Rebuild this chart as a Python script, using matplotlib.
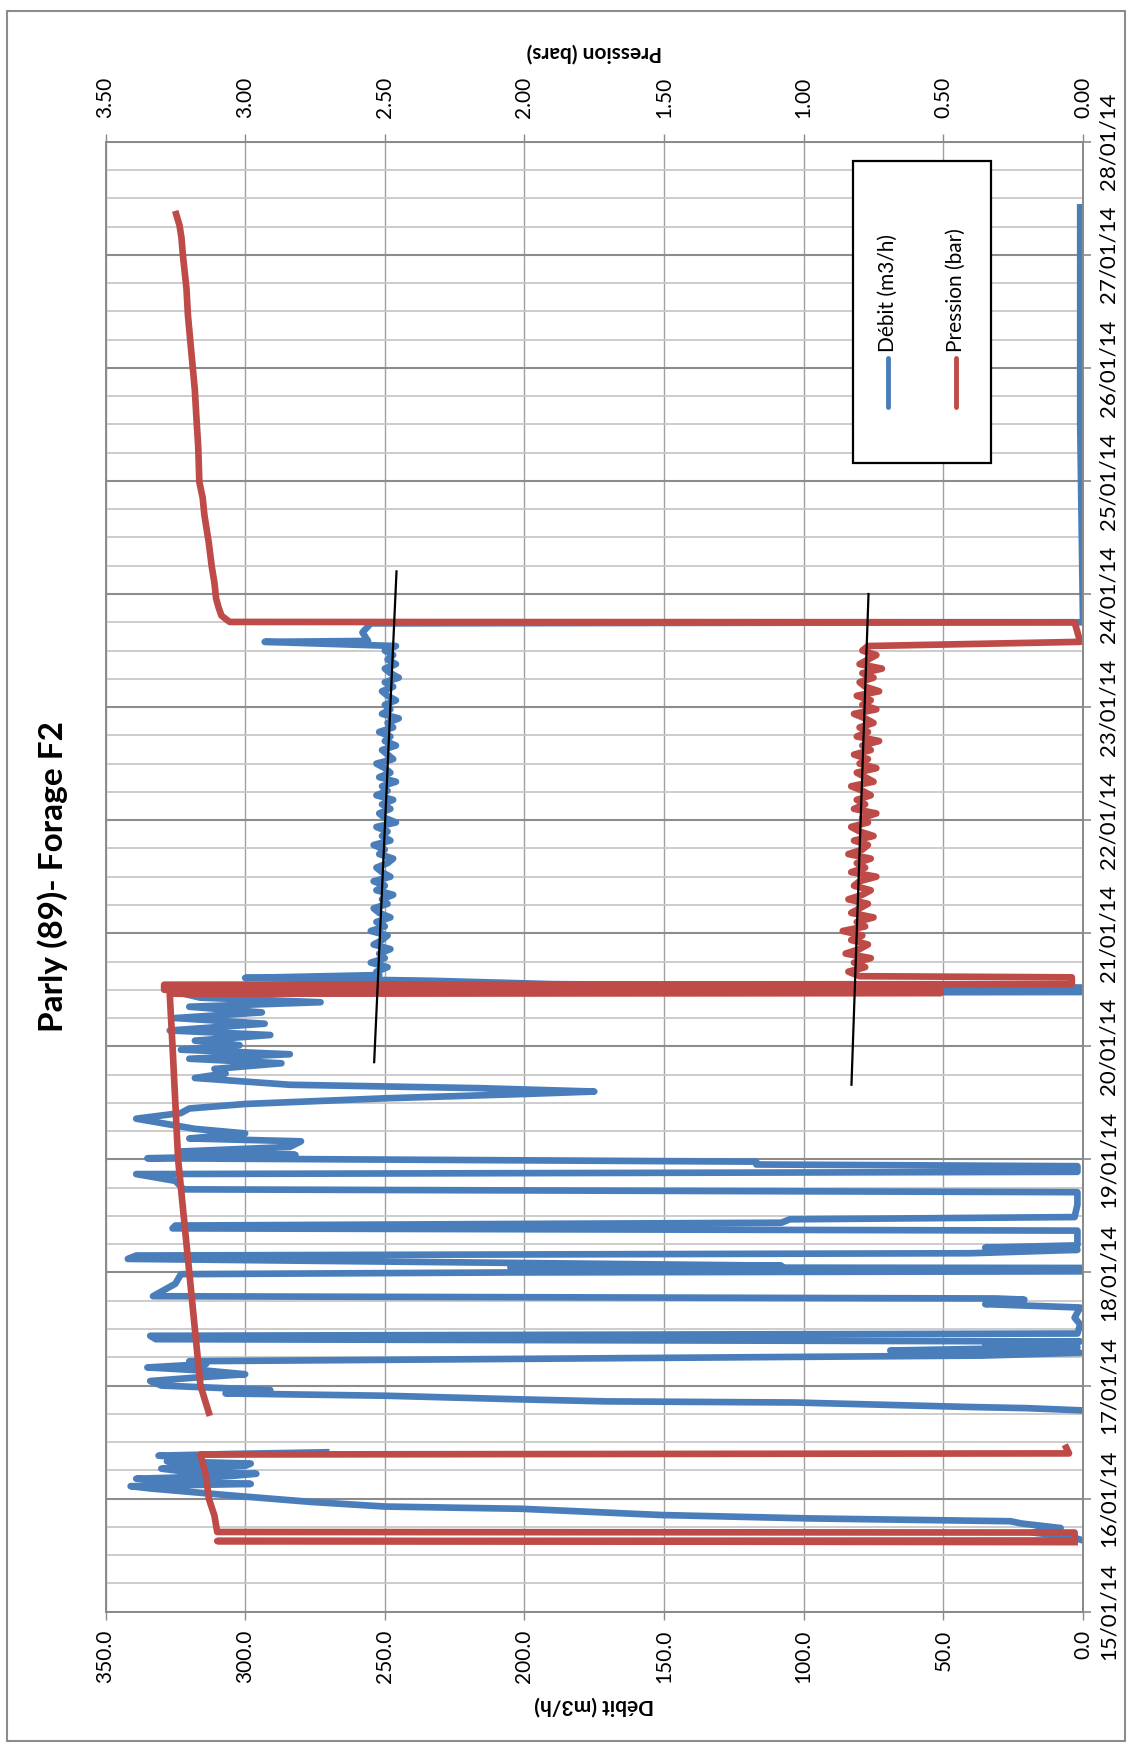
import numpy as np
import matplotlib.pyplot as plt
from matplotlib.ticker import MultipleLocator
from matplotlib.patches import Rectangle
from matplotlib.lines import Line2D

nan = np.nan

# --- Data (time in days from 15/01/14 00:00) ---
date_labels = ['15/01/14', '16/01/14', '17/01/14', '18/01/14', '19/01/14', '20/01/14', '21/01/14',
               '22/01/14', '23/01/14', '24/01/14', '25/01/14', '26/01/14', '27/01/14', '28/01/14']
debit_ticks = [0, 50, 100, 150, 200, 250, 300, 350]
pression_ticks = [0.0, 0.5, 1.0, 1.5, 2.0, 2.5, 3.0, 3.5]

# steady pumping period (21/01 -> 23/01)
steady_days = [5.66, 5.70, 5.74, 5.78, 5.82, 5.86, 5.90, 5.94, 5.98, 6.02,
               6.06, 6.10, 6.14, 6.18, 6.22, 6.26, 6.30, 6.34, 6.38, 6.42,
               6.46, 6.50, 6.54, 6.58, 6.62, 6.66, 6.70, 6.74, 6.78, 6.82,
               6.86, 6.90, 6.94, 6.98, 7.02, 7.06, 7.10, 7.14, 7.18, 7.22,
               7.26, 7.30, 7.34, 7.38, 7.42, 7.46, 7.50, 7.54, 7.58, 7.62,
               7.66, 7.70, 7.74, 7.78, 7.82, 7.86, 7.90, 7.94, 7.98, 8.02,
               8.06, 8.10, 8.14, 8.18, 8.22, 8.26, 8.30, 8.34, 8.38, 8.42,
               8.46, 8.50, 8.54]
steady_debit = [253, 249, 255, 250, 252, 248, 254, 251, 249, 255,
                250, 253, 248, 252, 254, 249, 251, 247, 253, 250,
                254, 248, 251, 253, 249, 247, 252, 250, 254, 248,
                251, 249, 253, 246, 250, 252, 248, 251, 247, 253,
                249, 251, 246, 252, 248, 250, 253, 247, 249, 251,
                246, 250, 248, 252, 247, 249, 245, 251, 248, 250,
                246, 249, 251, 247, 250, 245, 248, 250, 246, 249,
                247, 250, 246]
steady_pression = [0.84, 0.78, 0.82, 0.76, 0.85, 0.80, 0.77, 0.83, 0.79, 0.86,
                   0.78, 0.81, 0.75, 0.83, 0.80, 0.77, 0.84, 0.79, 0.76, 0.82,
                   0.80, 0.74, 0.83, 0.78, 0.81, 0.76, 0.84, 0.79, 0.77, 0.82,
                   0.75, 0.80, 0.83, 0.77, 0.79, 0.74, 0.82, 0.78, 0.81, 0.76,
                   0.79, 0.83, 0.75, 0.78, 0.81, 0.74, 0.80, 0.77, 0.82, 0.76,
                   0.79, 0.73, 0.81, 0.77, 0.80, 0.75, 0.78, 0.82, 0.74, 0.79,
                   0.76, 0.81, 0.73, 0.78, 0.80, 0.75, 0.79, 0.72, 0.80, 0.77,
                   0.74, 0.79, 0.77]

# Débit (m3/h)
debit_days_a = [0.63, 0.66, 0.70, 0.74, 0.78, 0.80, 0.825, 0.855, 0.91, 0.93, 0.97, 1.03, 1.09,
                1.11, 1.13, 1.15, 1.176, 1.20, 1.22, 1.24, 1.265, 1.29, 1.31, 1.33, 1.35, 1.38,
                1.395, 1.41, 1.60]
debit_vals_a = [0, 4, 18, 8, 22, 26, 98, 151, 201, 250, 276, 306, 334,
                341, 298, 325, 339, 305, 296, 322, 330, 300, 298, 328, 316, 331,
                305, 271, nan]
debit_days_b = [1.78, 1.80, 1.81, 1.85, 1.86, 1.88, 1.91, 1.93, 1.96, 2.00,
                2.04, 2.07, 2.10, 2.13, 2.16, 2.19, 2.215, 2.265, 2.29, 2.31,
                2.34, 2.37, 2.39, 2.41, 2.44, 2.46, 2.54, 2.60, 2.69, 2.72,
                2.76, 2.77, 2.79, 2.90, 2.985, 3.00, 3.01, 3.04, 3.045, 3.06,
                3.12, 3.15, 3.17, 3.20, 3.22, 3.24, 3.37, 3.39, 3.415, 3.44,
                3.47, 3.49, 3.60, 3.71, 3.735, 3.81, 3.87, 3.89, 3.94, 3.955,
                3.98, 4.01, 4.04, 4.07, 4.11, 4.16, 4.185, 4.23, 4.27, 4.33,
                4.36, 4.41, 4.45, 4.49, 4.54, 4.58, 4.60, 4.63, 4.66, 4.72,
                4.76, 4.80, 4.85, 4.89, 4.93, 4.97, 5.01, 5.05, 5.10, 5.14,
                5.20, 5.25, 5.30, 5.35, 5.39, 5.43, 5.47, 5.48, 5.52, 5.55,
                5.58, 5.605, 5.63]
debit_vals_b = [0, 20, 40, 103, 171, 205, 250, 307, 291, 330,
                334, 318, 300, 313, 335, 314, 320, 36, 1, 69,
                2, 35, 1, 332, 334, 2, 1, 3, 1, 35,
                21, 31, 333, 325, 323, 205, 0, 0, 205, 108,
                342, 339, 40, 2, 35, 2, 2, 326, 325, 108,
                105, 3, 2, 2, 322, 325, 339, 2, 2, 117,
                117, 335, 282, 323, 284, 280, 320, 300, 318, 332,
                339, 323, 320, 300, 250, 198, 175, 216, 284, 318,
                307, 311, 287, 320, 284, 323, 302, 318, 291, 327,
                293, 325, 294, 320, 273, 316, 323, 0, 0, 190,
                234, 300, 252]
debit_days_c = [8.577, 8.585, 8.66, 8.74, 8.75, 10.5, 12.42]
debit_vals_c = [293, 256, 258, 255, 0, 1, 1]

# Pression (bar)
pression_days_a = [0.615, 0.625, 0.63, 0.70, 0.705, 0.85, 1.0, 1.2, 1.39, 1.40, 1.45, 1.60]
pression_vals_a = [0.03, 3.10, 0.03, 0.03, 3.10, 3.11, 3.13, 3.14, 3.16, 0.05, 0.06, nan]
pression_days_b = [1.76, 2.0, 2.5, 3.0, 3.5, 4.0, 4.5, 5.0, 5.465, 5.47, 5.49, 5.50, 5.545,
                   5.55, 5.61, 5.62]
pression_vals_b = [3.13, 3.16, 3.18, 3.20, 3.22, 3.24, 3.25, 3.26, 3.27, 0.51, 0.51, 3.29, 3.29,
                   0.04, 0.04, 0.80]
pression_days_c = [8.577, 8.75, 8.753, 8.78, 8.81, 8.88, 8.96, 9.10, 9.25, 9.45, 9.70, 9.85,
                   9.99, 10.30, 10.58, 10.80, 10.99, 11.20, 11.47, 11.70, 12.00, 12.15,
                   12.26, 12.36]
pression_vals_c = [0.01, 0.03, 3.055, 3.07, 3.085, 3.095, 3.104, 3.11, 3.12, 3.13, 3.146, 3.152,
                   3.164, 3.168, 3.175, 3.18, 3.187, 3.195, 3.205, 3.21, 3.223, 3.228,
                   3.235, 3.247]

# hand-drawn trend lines
trend_debit_days = [4.86, 9.2]
trend_debit_vals = [253.8, 245.8]
trend_pression_days = [4.66, 9.0]
trend_pression_vals = [0.829, 0.768]

debit_days = debit_days_a + debit_days_b + steady_days + debit_days_c
debit_vals = debit_vals_a + debit_vals_b + steady_debit + debit_vals_c
pression_days = pression_days_a + pression_days_b + steady_days + pression_days_c
pression_vals = pression_vals_a + pression_vals_b + steady_pression + pression_vals_c

# --- Style ---
plt.rcParams['font.family'] = ['Lato', 'DejaVu Sans']
BLUE = '#4a7ebb'
RED = '#be4b48'
GRID = '#8a8a8a'
W, H = 1130, 1747
left, right, top, bottom = 105.5, 1083, 141.7, 1611.7

fig = plt.figure(figsize=(W / 100, H / 100), dpi=100)
fig.patches.append(Rectangle((7 / W, 1 - 1741 / H), 1118 / W, 1730 / H, transform=fig.transFigure,
                             fill=False, ec='#8c8c8c', lw=1.5))

ax = fig.add_axes([left / W, 1 - bottom / H, (right - left) / W, (bottom - top) / H])
ax.set_xlim(350, 0)
ax.set_ylim(0, 13)
ax.plot(debit_vals, debit_days, color=BLUE, lw=4.8, solid_joinstyle='round')

ax.set_xticks(debit_ticks)
ax.set_xticklabels([f'{v:.1f}' for v in debit_ticks], rotation=90)
ax.set_yticks(range(len(date_labels)))
ax.set_yticklabels(date_labels, rotation=90, va='center')
ax.yaxis.set_minor_locator(MultipleLocator(0.25))
ax.yaxis.tick_right()
ax.tick_params(axis='y', which='major', direction='out', length=6, width=1.2, color=GRID,
               labelsize=16, pad=5)
ax.tick_params(axis='y', which='minor', length=0)
ax.tick_params(axis='x', direction='out', length=6, width=1.0, color=GRID, labelsize=15, pad=7)
ax.grid(True, which='major', axis='y', color='#8c8c8c', lw=1.5)
ax.grid(True, which='minor', axis='y', color='#c8c8c8', lw=1.3)
ax.grid(True, which='major', axis='x', color='#a0a0a0', lw=1.0)
ax.set_axisbelow(True)
ax.set_xlabel('Débit (m3/h)', rotation=180, fontsize=15, fontweight='bold')
ax.xaxis.set_label_coords(0.5, -0.064)
ax.xaxis.label.set_va('center')

ax2 = ax.twiny()
ax2.set_xlim(3.5, 0)
ax2.plot(pression_vals, pression_days, color=RED, lw=4.8, solid_joinstyle='round')
ax2.plot(np.array(trend_debit_vals) / 100, trend_debit_days, color='black', lw=1.6)
ax2.plot(trend_pression_vals, trend_pression_days, color='black', lw=1.6)
ax2.set_xticks(pression_ticks)
ax2.set_xticklabels([f'{v:.2f}' for v in pression_ticks], rotation=90)
ax2.tick_params(axis='x', direction='out', length=6, width=1.0, color=GRID, labelsize=15, pad=11)
ax2.set_xlabel('Pression (bars)', rotation=180, fontsize=15, fontweight='bold')
ax2.xaxis.set_label_coords(0.5, 1.061)
ax2.xaxis.label.set_va('center')

for a in (ax, ax2):
    for s in a.spines.values():
        s.set_color(GRID)
        s.set_linewidth(1.3)

# legend box (rotated, like the rest of the chart)
ax2.add_patch(Rectangle((0.765, 0.7816), 0.141, 0.205, transform=ax2.transAxes,
                        facecolor='white', edgecolor='black', lw=1.6, zorder=5))
for xpos, col, label in [(0.800, BLUE, 'Débit (m3/h)'), (0.870, RED, 'Pression (bar)')]:
    ax2.add_line(Line2D([xpos, xpos], [0.8194, 0.8527], transform=ax2.transAxes, color=col,
                        lw=3.5, solid_capstyle='round', zorder=6))
    ax2.text(xpos, 0.857, label, transform=ax2.transAxes, rotation=90, ha='center', va='bottom',
             fontsize=15, zorder=6)

fig.text(53 / W, 1 - 877 / H, 'Parly (89)- Forage F2', rotation=90, ha='center', va='center',
         fontsize=24, fontweight='bold')

fig.savefig('out.png', dpi=100)
